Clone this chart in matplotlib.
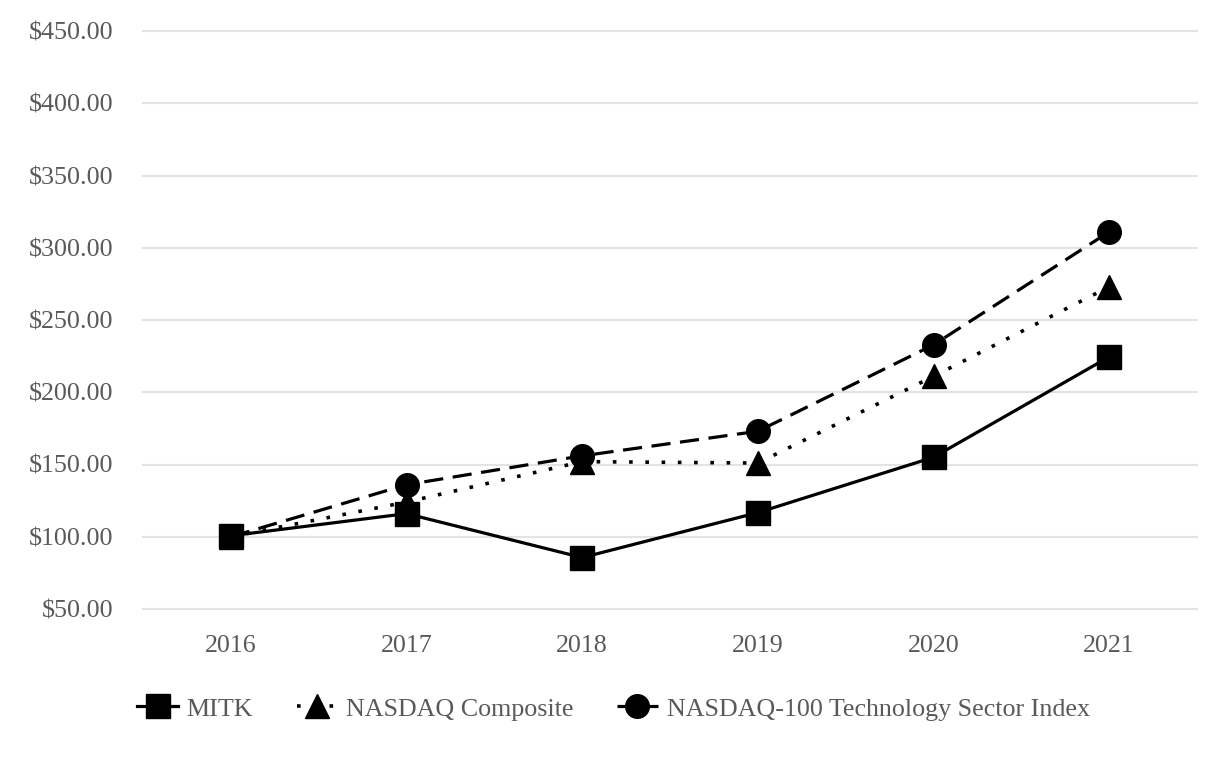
import matplotlib.pyplot as plt

years = ["2016", "2017", "2018", "2019", "2020", "2021"]
mitk = [100.7, 116.0, 85.6, 116.7, 155.0, 224.5]
nasdaq_comp = [100.0, 124.0, 152.0, 151.0, 211.0, 273.0]
nasdaq_tech = [100.0, 136.0, 156.0, 173.0, 232.8, 311.0]
yticks = [50, 100, 150, 200, 250, 300, 350, 400, 450]

plt.rcParams["font.family"] = ["Liberation Serif", "DejaVu Serif"]
gray = "#595959"
fs = 18.7

fig = plt.figure(figsize=(12.26, 7.6), dpi=100)
ax = fig.add_axes([143 / 1226, 1 - 609 / 760, (1197 - 143) / 1226, (609 - 31) / 760])

x = range(len(years))
lw = 2.3
ax.plot(x, mitk, color="black", lw=lw, marker="s", ms=17, label="MITK", zorder=3)
ax.plot(x, nasdaq_comp, color="black", lw=2.6, ls=(0, (1, 3.5)), marker="^", ms=17,
        label="NASDAQ Composite", zorder=3)
ax.plot(x, nasdaq_tech, color="black", lw=lw, ls=(0, (6, 3)), marker="o", ms=17,
        label="NASDAQ-100 Technology Sector Index", zorder=3)

ax.set_xlim(-0.5, len(years) - 0.5)
ax.set_ylim(50, 450)
ax.set_xticks(list(x))
ax.set_xticklabels(years)
ax.set_yticks(yticks)
ax.set_yticklabels([f"${v:.2f}" for v in yticks])
ax.tick_params(length=0, labelsize=fs, colors=gray)
ax.tick_params(axis="y", pad=21)
ax.tick_params(axis="x", pad=19)
ax.grid(axis="y", color="#e3e3e3", lw=1.5)
for gl in ax.get_ygridlines():
    gl.set_clip_on(False)
ax.set_axisbelow(True)
for s in ax.spines.values():
    s.set_visible(False)

leg = fig.legend(loc="center left", bbox_to_anchor=(114 / 1226, 1 - 709 / 760), ncol=3,
                 frameon=False, fontsize=fs, handlelength=1.55, columnspacing=1.68,
                 handletextpad=0.35, markerscale=1.0)
for t in leg.get_texts():
    t.set_color(gray)

fig.savefig("out.png", dpi=100)
